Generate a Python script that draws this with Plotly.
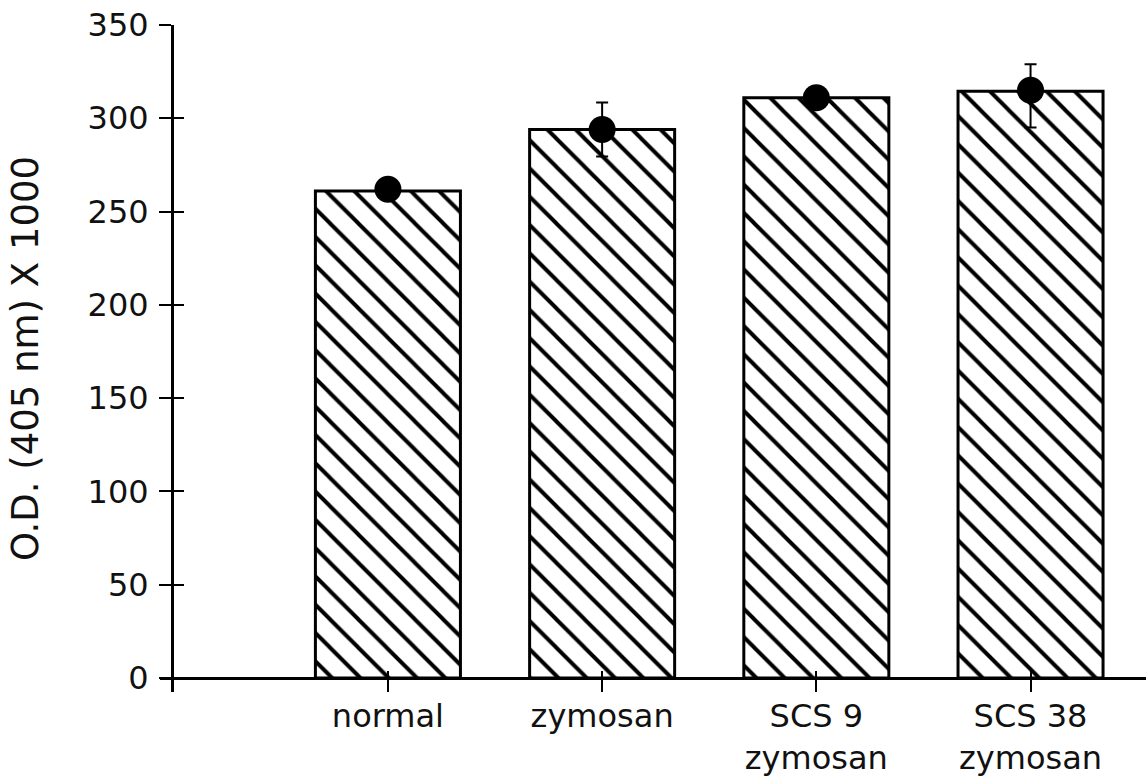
import plotly.graph_objects as go

categories = ["normal", "zymosan", "SCS 9<br>zymosan", "SCS 38<br>zymosan"]
bar_values = [261, 294, 311, 314.5]
dot_values = [262, 294, 311, 315]
err_plus = [0, 14.5, 0, 14]
err_minus = [0, 14.5, 0, 20]
y_ticks = [0, 50, 100, 150, 200, 250, 300, 350]
y_title = "O.D. (405 nm) X 1000"

FONT = "DejaVu Sans"
XR = [-1.064, 3.539]
YR = [-7.5, 350]

fig = go.Figure()
fig.add_trace(go.Bar(
    x=categories, y=bar_values, width=0.677,
    marker=dict(color="white", line=dict(color="black", width=3),
                pattern=dict(shape="\\", size=20, solidity=0.2,
                             fgcolor="black", bgcolor="white", fgopacity=1)),
    xaxis="x", yaxis="y", showlegend=False, hoverinfo="skip",
))
fig.add_trace(go.Scatter(
    x=categories, y=dot_values, mode="markers",
    marker=dict(color="black", size=27),
    error_y=dict(type="data", symmetric=False, array=err_plus, arrayminus=err_minus,
                 color="black", thickness=2, width=6),
    xaxis="x2", yaxis="y2", showlegend=False,
))

fig.update_layout(
    width=1146, height=778,
    margin=dict(l=160, r=0, t=25, b=86),
    plot_bgcolor="white", paper_bgcolor="white",
    font=dict(family=FONT, size=32, color="#111"),
    xaxis=dict(type="category", categoryorder="array", categoryarray=categories,
               range=XR, anchor="free", position=14/667,
               showline=True, linecolor="black", linewidth=3,
               ticks="outside", ticklen=12, tickwidth=2, tickcolor="black",
               ticklabelstandoff=-3,
               showgrid=False, zeroline=False, tickfont=dict(size=32)),
    xaxis2=dict(type="category", categoryorder="array", categoryarray=categories,
                range=XR, overlaying="x", anchor="free", position=14/667,
                showline=False, ticks="inside", ticklen=7, tickwidth=2, tickcolor="black",
                showticklabels=False, showgrid=False, zeroline=False),
    yaxis=dict(range=YR, tickvals=y_ticks, anchor="free", position=12/986,
               showline=True, linecolor="black", linewidth=3,
               ticks="outside", ticklen=12, tickwidth=2, tickcolor="black",
               ticklabelstandoff=4,
               showgrid=False, zeroline=False, tickfont=dict(size=32),
               title=dict(text=y_title, font=dict(size=37), standoff=36)),
    yaxis2=dict(range=YR, tickvals=y_ticks, overlaying="y", anchor="free", position=12/986,
                showline=False, ticks="inside", ticklen=11, tickwidth=2, tickcolor="black",
                showticklabels=False, showgrid=False, zeroline=False),
)

fig.write_html("out.html")
